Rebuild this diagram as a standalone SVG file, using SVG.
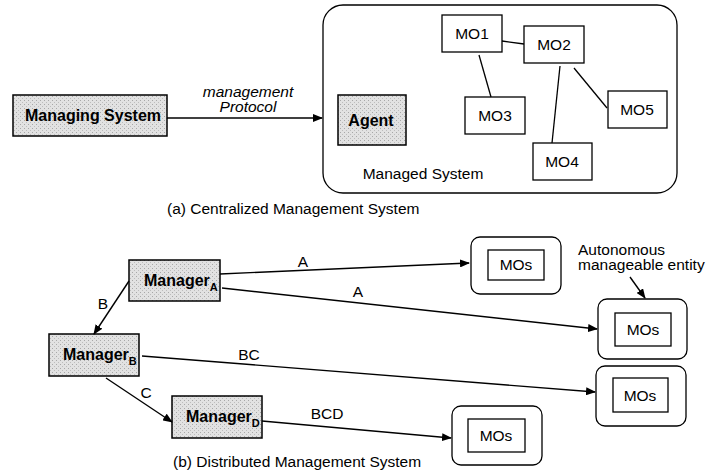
<svg xmlns="http://www.w3.org/2000/svg" width="706" height="475" viewBox="0 0 706 475">
  <style>
    text { font-family: "Liberation Sans", Arial, sans-serif; font-size: 15.5px; fill: #000; }
    .b { font-weight: bold; font-size: 16px; }
    .it { font-style: italic; }
    .sub { font-size: 11px; font-weight: bold; }
    .box { fill: #fff; stroke: #000; stroke-width: 1.3; }
    .shade { fill: url(#stipple); stroke: #000; stroke-width: 1.5; }
    .frame { fill: none; stroke: #000; stroke-width: 1.3; }
    .ln { fill: none; stroke: #000; stroke-width: 1.3; }
    .arr { fill: none; stroke: #000; stroke-width: 1.4; marker-end: url(#head); }
  </style>
  <defs>
    <pattern id="stipple" width="4" height="4" patternUnits="userSpaceOnUse">
      <rect width="4" height="4" fill="#e2e2e2"/>
      <rect x="0" y="0" width="1" height="1" fill="#a8a8a8"/>
      <rect x="2" y="2" width="1" height="1" fill="#bdbdbd"/>
    </pattern>
    <marker id="head" markerWidth="10" markerHeight="8" refX="9" refY="4" orient="auto" markerUnits="userSpaceOnUse">
      <path d="M0,0 L10,4 L0,8 z" fill="#000"/>
    </marker>
  </defs>

  <!-- (a) centralized -->
  <g id="managing-system">
    <rect class="shade" x="13" y="95" width="154" height="41"/>
    <text class="b" x="93" y="121" text-anchor="middle">Managing System</text>
  </g>

  <g id="managed-system">
    <rect class="frame" x="323" y="5" width="354" height="188" rx="20" ry="20"/>
    <text x="423" y="179" text-anchor="middle">Managed System</text>
  </g>

  <g id="agent">
    <rect class="shade" x="338" y="95" width="68" height="50"/>
    <text class="b" x="371" y="126" text-anchor="middle">Agent</text>
  </g>

  <g id="mo1">
    <rect class="box" x="442" y="15" width="60" height="37"/>
    <text x="472" y="39" text-anchor="middle">MO1</text>
  </g>
  <g id="mo2">
    <rect class="box" x="524" y="26" width="60" height="37"/>
    <text x="554" y="50" text-anchor="middle">MO2</text>
  </g>
  <g id="mo3">
    <rect class="box" x="465" y="97" width="60" height="37"/>
    <text x="495" y="121" text-anchor="middle">MO3</text>
  </g>
  <g id="mo4">
    <rect class="box" x="533" y="143" width="59" height="37"/>
    <text x="562" y="167" text-anchor="middle">MO4</text>
  </g>
  <g id="mo5">
    <rect class="box" x="608" y="91" width="59" height="37"/>
    <text x="637" y="115" text-anchor="middle">MO5</text>
  </g>

  <text x="167" y="214">(a) Centralized Management System</text>

  <!-- (b) distributed -->
  <g id="manager-a">
    <rect class="shade" x="129" y="260" width="91" height="41"/>
    <text class="b" x="144" y="286">Manager<tspan class="sub" dy="5">A</tspan></text>
  </g>
  <g id="manager-b">
    <rect class="shade" x="49" y="334" width="90" height="42"/>
    <text class="b" x="63" y="360">Manager<tspan class="sub" dy="5">B</tspan></text>
  </g>
  <g id="manager-d">
    <rect class="shade" x="172" y="396" width="90" height="42"/>
    <text class="b" x="186" y="422">Manager<tspan class="sub" dy="5">D</tspan></text>
  </g>

  <g id="entity-1">
    <rect class="frame" x="471" y="237" width="90" height="57" rx="9" ry="9"/>
    <rect class="box" x="488" y="250" width="56" height="30"/>
    <text x="516" y="270" text-anchor="middle">MOs</text>
  </g>
  <g id="entity-2">
    <rect class="frame" x="598" y="299" width="89" height="60" rx="9" ry="9"/>
    <rect class="box" x="615" y="313" width="56" height="33"/>
    <text x="643" y="335" text-anchor="middle">MOs</text>
  </g>
  <g id="entity-3">
    <rect class="frame" x="596" y="366" width="90" height="60" rx="9" ry="9"/>
    <rect class="box" x="613" y="378" width="55" height="34"/>
    <text x="640" y="401" text-anchor="middle">MOs</text>
  </g>
  <g id="entity-4">
    <rect class="frame" x="452" y="406" width="90" height="59" rx="9" ry="9"/>
    <rect class="box" x="468" y="419" width="57" height="33"/>
    <text x="496" y="441" text-anchor="middle">MOs</text>
  </g>

  <g id="entity-note">
    <text x="578" y="255">Autonomous</text>
    <text x="578" y="270">manageable entity</text>
  </g>

  <text x="173" y="467">(b) Distributed Management System</text>

  <!-- connectors -->
  <g id="connectors">
    <path class="arr" d="M167,118 L322,118"/>
    <text class="it" x="248" y="97" text-anchor="middle">management</text>
    <text class="it" x="248" y="112" text-anchor="middle">Protocol</text>

    <path class="ln" d="M502,41 L524,44"/>
    <path class="ln" d="M479,55 L491,97"/>
    <path class="ln" d="M560,66 L552,143"/>
    <path class="ln" d="M574,68 L607,108"/>

    <path class="arr" d="M129,281 L94,334"/>
    <text x="103" y="309" text-anchor="middle">B</text>
    <path class="arr" d="M106,378 L172,422"/>
    <text x="146" y="398" text-anchor="middle">C</text>

    <path class="arr" d="M220,274 L469,263"/>
    <text x="303" y="267" text-anchor="middle">A</text>
    <path class="arr" d="M222,288 L597,329"/>
    <text x="358" y="297" text-anchor="middle">A</text>
    <path class="arr" d="M142,356 L595,392"/>
    <text x="249" y="360" text-anchor="middle">BC</text>
    <path class="arr" d="M262,421 L451,438"/>
    <text x="327" y="419" text-anchor="middle">BCD</text>

    <path class="arr" d="M630,277 L645,298"/>
  </g>
</svg>
